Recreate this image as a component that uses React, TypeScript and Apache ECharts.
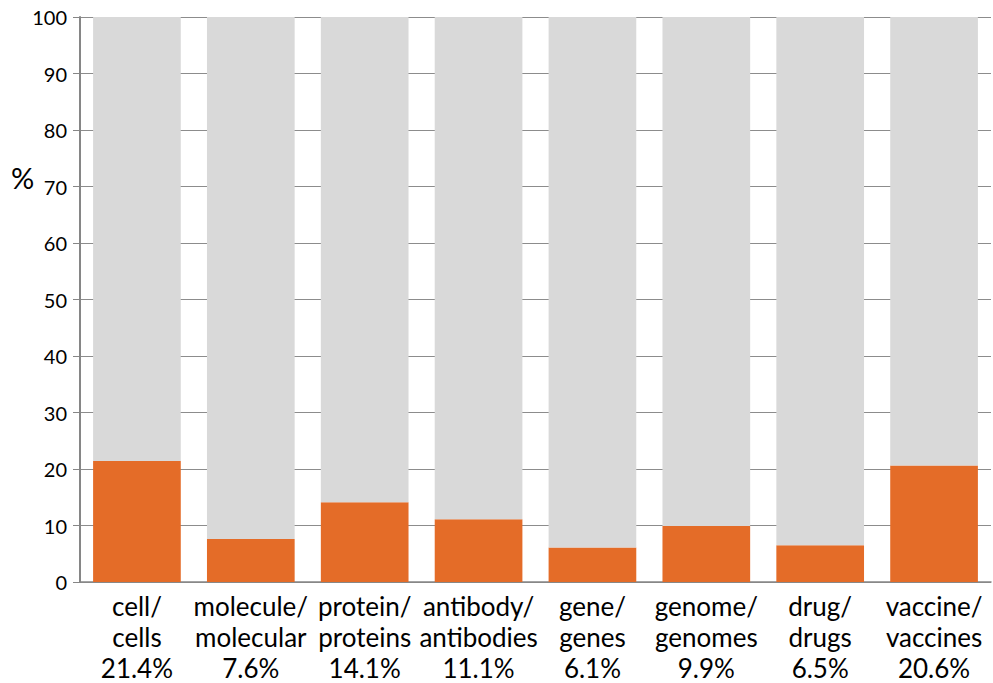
import React, { useEffect, useRef } from "react";
import * as echarts from "echarts";

const categories = [
  "cell/\ncells",
  "molecule/\nmolecular",
  "protein/\nproteins",
  "antibody/\nantibodies",
  "gene/\ngenes",
  "genome/\ngenomes",
  "drug/\ndrugs",
  "vaccine/\nvaccines",
];
const shares = [21.4, 7.6, 14.1, 11.1, 6.1, 9.9, 6.5, 20.6];
const yTicks = { min: 0, max: 100, interval: 10 };

const FONT = "Lato, 'Open Sans', sans-serif";

export default function App() {
  const ref = useRef<HTMLDivElement>(null);
  useEffect(() => {
    document.body.style.margin = "0";
    const chart = echarts.init(ref.current!, null, { renderer: "svg" });
    const labels = categories.map((c, i) => `${c}\n${shares[i].toFixed(1)}%`);
    chart.setOption({
      animation: false,
      backgroundColor: "#ffffff",
      textStyle: { fontFamily: FONT },
      grid: { left: 80, right: 2, top: 17, bottom: 101, containLabel: false },
      graphic: [
        {
          type: "text",
          left: 11,
          top: 163,
          style: { text: "%", fontSize: 29, fontFamily: FONT, fill: "#000" },
        },
      ],
      xAxis: {
        type: "category",
        data: labels,
        axisLine: { show: true, lineStyle: { color: "#868686", width: 1.5 } },
        axisTick: { show: false },
        axisLabel: {
          color: "#000",
          fontSize: 26,
          lineHeight: 31,
          margin: 8,
          interval: 0,
          fontFamily: FONT,
        },
      },
      yAxis: {
        type: "value",
        min: yTicks.min,
        max: yTicks.max,
        interval: yTicks.interval,
        axisLine: { show: true, lineStyle: { color: "#868686", width: 2 } },
        axisTick: { show: true, length: 7, lineStyle: { color: "#868686", width: 1 } },
        splitLine: { show: true, lineStyle: { color: "#8c8c8c", width: 1 } },
        axisLabel: { color: "#000", fontSize: 20, margin: 13, fontFamily: FONT },
      },
      series: [
        {
          type: "bar",
          stack: "total",
          data: shares,
          barCategoryGap: "23%",
          itemStyle: { color: "#e46c28" },
        },
        {
          type: "bar",
          stack: "total",
          data: shares.map((v) => +(100 - v).toFixed(1)),
          barCategoryGap: "23%",
          itemStyle: { color: "#d9d9d9" },
        },
      ],
    });
    return () => chart.dispose();
  }, []);
  return <div ref={ref} style={{ width: 993, height: 683 }} />;
}
